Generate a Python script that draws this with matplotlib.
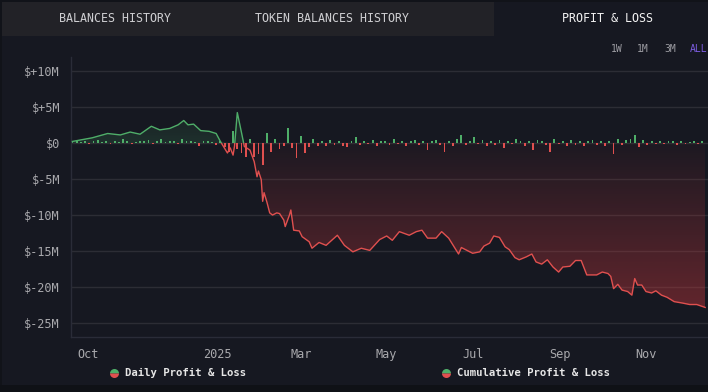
import numpy as np
import pandas as pd
import matplotlib
matplotlib.use("Agg")
import matplotlib.pyplot as plt
import matplotlib.dates as mdates
from matplotlib.patches import Rectangle, PathPatch
from matplotlib.path import Path
from matplotlib.lines import Line2D

# ── Data (values in $M) ─────────────────────────────────────
cum_dates = [
    "2024-09-20", "2024-10-04", "2024-10-15", "2024-10-24", "2024-10-31", "2024-11-07",
    "2024-11-15", "2024-11-21", "2024-11-28", "2024-12-04", "2024-12-08", "2024-12-11",
    "2024-12-15", "2024-12-20", "2024-12-26", "2024-12-31", "2025-01-03", "2025-01-08",
    "2025-01-10", "2025-01-12", "2025-01-13", "2025-01-15", "2025-01-18", "2025-01-20",
    "2025-01-24", "2025-01-27", "2025-01-29", "2025-01-30", "2025-02-01", "2025-02-02",
    "2025-02-03", "2025-02-05", "2025-02-07", "2025-02-09", "2025-02-12", "2025-02-14",
    "2025-02-17", "2025-02-18", "2025-02-21", "2025-02-22", "2025-02-24", "2025-02-28",
    "2025-03-02", "2025-03-07", "2025-03-09", "2025-03-14", "2025-03-19", "2025-03-23",
    "2025-03-27", "2025-04-01", "2025-04-07", "2025-04-13", "2025-04-19", "2025-04-26",
    "2025-05-01", "2025-05-05", "2025-05-10", "2025-05-17", "2025-05-22", "2025-05-26",
    "2025-05-30", "2025-06-05", "2025-06-09", "2025-06-14", "2025-06-21", "2025-06-23",
    "2025-06-27", "2025-07-01", "2025-07-06", "2025-07-09", "2025-07-13", "2025-07-16",
    "2025-07-20", "2025-07-24", "2025-07-27", "2025-07-31", "2025-08-03", "2025-08-08",
    "2025-08-12", "2025-08-15", "2025-08-19", "2025-08-23", "2025-08-27", "2025-08-31",
    "2025-09-03", "2025-09-08", "2025-09-12", "2025-09-16", "2025-09-20", "2025-09-27",
    "2025-10-01", "2025-10-05", "2025-10-07", "2025-10-09", "2025-10-12", "2025-10-15",
    "2025-10-19", "2025-10-22", "2025-10-24", "2025-10-26", "2025-10-29", "2025-11-01",
    "2025-11-05", "2025-11-08", "2025-11-12", "2025-11-16", "2025-11-21", "2025-11-27",
    "2025-12-02", "2025-12-07", "2025-12-13",
]
cum_values = [
    0.2, 0.7, 1.3, 1.1, 1.5, 1.2, 2.3, 1.8, 2.0, 2.5,
    3.1, 2.5, 2.6, 1.7, 1.6, 1.3, 0.2, -1.4, -0.7, -1.7,
    -0.5, 4.2, 1.4, -0.5, -1.0, -2.6, -4.7, -3.9, -5.1, -8.1,
    -6.9, -8.2, -9.7, -10.0, -9.7, -9.8, -10.7, -11.6, -10.0, -9.3,
    -12.1, -12.2, -13.0, -13.7, -14.6, -13.8, -14.2, -13.5, -12.8, -14.2,
    -15.1, -14.6, -14.9, -13.4, -12.9, -13.5, -12.3, -12.8, -12.3, -12.1,
    -13.2, -13.2, -12.3, -13.2, -15.4, -14.5, -14.9, -15.3, -15.1, -14.3,
    -13.9, -12.9, -13.1, -14.4, -14.8, -15.9, -16.2, -15.8, -15.4, -16.5,
    -16.8, -16.2, -17.2, -17.9, -17.2, -17.1, -16.3, -16.3, -18.3, -18.3,
    -17.9, -18.1, -18.5, -20.2, -19.6, -20.4, -20.6, -21.1, -18.8, -19.7,
    -19.7, -20.6, -20.8, -20.5, -21.1, -21.4, -22.0, -22.2, -22.4, -22.4,
    -22.8,
]

# daily P&L, one bar every 3 days from daily_start
daily_start = "2024-09-20"
daily_values = [
    0.3, 0.2, 0.1, 0.3, -0.1, 0.2, 0.4, 0.1, 0.2, -0.1,
    0.3, 0.1, 0.5, 0.2, -0.2, 0.1, 0.3, 0.2, 0.4, -0.1,
    0.2, 0.6, 0.1, 0.3, 0.2, -0.2, 0.5, 0.2, 0.3, 0.1,
    -0.4, 0.3, 0.2, 0.1, -0.3, 0.3, -0.6, -1.2, 1.6, -0.8,
    -1.4, -1.9, 0.6, -2.0, -1.5, -3.1, 1.4, -1.2, 0.6, -0.9,
    -0.5, 2.0, -0.7, -2.1, 0.9, -1.4, -0.6, 0.5, -0.4, 0.3,
    -0.5, 0.4, -0.3, 0.2, -0.4, -0.6, 0.3, 0.8, -0.3, 0.2,
    -0.2, 0.4, -0.4, 0.3, 0.2, -0.3, 0.5, -0.2, 0.3, -0.5,
    0.2, 0.4, -0.3, 0.3, -1.0, 0.2, 0.4, -0.3, -1.3, 0.3,
    -0.4, 0.5, 1.1, -0.3, 0.3, 0.8, -0.2, 0.4, -0.5, 0.3,
    -0.3, 0.4, -0.7, 0.3, -0.2, 0.5, 0.2, -0.4, 0.3, -1.0,
    0.4, 0.3, -0.3, -1.3, 0.5, -0.2, 0.3, -0.4, 0.4, -0.3,
    0.3, -0.5, 0.2, 0.4, -0.3, 0.2, -0.4, 0.3, -1.5, 0.5,
    -0.3, 0.4, 0.6, 1.1, -0.6, 0.4, -0.3, 0.2, -0.2, 0.3,
    -0.2, 0.2, 0.3, -0.3, 0.2, -0.2, 0.1, 0.2, -0.2, 0.2,
]

y_ticks = [10, 5, 0, -5, -10, -15, -20, -25]
x_tick_dates = ["2024-10-01", "2025-01-01", "2025-03-01", "2025-05-01",
                "2025-07-01", "2025-09-01", "2025-11-01"]
x_tick_labels = ["Oct", "2025", "Mar", "May", "Jul", "Sep", "Nov"]
tab_labels = ["BALANCES HISTORY", "TOKEN BALANCES HISTORY", "PROFIT & LOSS"]
range_labels = ["1W", "1M", "3M", "ALL"]
legend_labels = ["Daily Profit & Loss", "Cumulative Profit & Loss"]

# ── Style ───────────────────────────────────────────────────
BG = "#161821"
TAB_BG = "#222227"
GRID = "#2c2d35"
SPINE = "#2a2c38"
TICK = "#a9a9ad"
GREEN = "#4fae69"
RED = "#e0504f"
MONO = "DejaVu Sans Mono"

W, H = 708, 392
fig = plt.figure(figsize=(W / 100, H / 100), dpi=100)
fig.patch.set_facecolor(BG)


def fx(x):
    return x / W


def fy(y):
    return 1 - y / H


# background pieces: darker left edge + bottom strip, tab bar
fig.add_artist(Rectangle((0, 0), fx(2), 1, transform=fig.transFigure,
                         facecolor="#111319", edgecolor="none", zorder=0))
fig.add_artist(Rectangle((0, 0), 1, fy(385), transform=fig.transFigure,
                         facecolor="#0f1116", edgecolor="none", zorder=0))
fig.add_artist(Rectangle((fx(2), fy(36)), fx(492), fy(2) - fy(36),
                         transform=fig.transFigure, facecolor=TAB_BG,
                         edgecolor="none", zorder=0))
fig.add_artist(Rectangle((0, fy(2)), 1, 1 - fy(2), transform=fig.transFigure,
                         facecolor="#111319", edgecolor="none", zorder=0))

for lab, xc in zip(tab_labels, [115, 332, 607]):
    col = "#f2f2f2" if lab == "PROFIT & LOSS" else "#cfcfd2"
    fig.text(fx(xc), fy(19), lab, ha="center", va="center",
             fontsize=8.4, family=MONO, color=col)

for lab, xc in zip(range_labels, [617, 643, 670, 699]):
    col = "#7c5ce0" if lab == "ALL" else "#9d9da3"
    fig.text(fx(xc), fy(49), lab, ha="center", va="center",
             fontsize=7, family=MONO, color=col)

# ── Axes ────────────────────────────────────────────────────
ax = fig.add_axes([fx(71), fy(337), fx(708 - 71), fy(57) - fy(337)])
ax.set_facecolor(BG)

cx = mdates.date2num(pd.to_datetime(cum_dates))
cy = np.array(cum_values)
dd = pd.date_range(daily_start, periods=len(daily_values), freq="3D")
dv = np.array(daily_values)

x_lo = mdates.date2num(pd.Timestamp("2024-09-19"))
x_hi = mdates.date2num(pd.Timestamp("2025-12-15"))
y_lo, y_hi = -26.9, 11.9

ax.grid(axis="y", color=GRID, linewidth=1, zorder=0)
ax.set_axisbelow(True)


# gradient fills clipped to the area under / over the cumulative line
def grad_fill(vals, rgb, a0, a1, top, bottom):
    verts = [(cx[0], 0)] + list(zip(cx, vals)) + [(cx[-1], 0), (cx[0], 0)]
    clip = PathPatch(Path(verts), facecolor="none", edgecolor="none",
                     transform=ax.transData)
    ax.add_patch(clip)
    n = 256
    img = np.zeros((n, 1, 4))
    img[:, 0, :3] = rgb
    img[:, 0, 3] = np.linspace(a0, a1, n)
    im = ax.imshow(img, extent=[cx[0], cx[-1], bottom, top], aspect="auto",
                   origin="upper", zorder=1, interpolation="bilinear")
    im.set_clip_path(clip)


grad_fill(np.minimum(cy, 0), (0.80, 0.22, 0.24), 0.04, 0.42, 0, -23)
grad_fill(np.maximum(cy, 0), (0.30, 0.70, 0.42), 0.05, 0.16, 4.5, 0)

# cumulative line, green above zero, red below
for col, rect in [(GREEN, Rectangle((x_lo, 0), x_hi - x_lo, 50)),
                  (RED, Rectangle((x_lo, -50), x_hi - x_lo, 50))]:
    rect.set_transform(ax.transData)
    ln, = ax.plot(cx, cy, color=col, linewidth=1.0, zorder=3)
    ln.set_clip_path(rect)

# daily bars
bar_cols = [GREEN if v >= 0 else RED for v in dv]
ax.bar(dd, dv, width=1.3, color=bar_cols, linewidth=0, zorder=2)

ax.set_xlim(x_lo, x_hi)
ax.set_ylim(y_lo, y_hi)

ax.set_yticks(y_ticks)
ax.set_yticklabels(["$0" if v == 0 else (f"$+{v}M" if v > 0 else f"$-{abs(v)}M")
                    for v in y_ticks])
ax.set_xticks(mdates.date2num(pd.to_datetime(x_tick_dates)))
ax.set_xticklabels(x_tick_labels)
ax.tick_params(axis="both", length=0, colors=TICK, labelsize=8.6)
ax.tick_params(axis="y", pad=8)
ax.tick_params(axis="x", pad=8)
for t in ax.get_xticklabels() + ax.get_yticklabels():
    t.set_family(MONO)

for s in ["top", "right"]:
    ax.spines[s].set_visible(False)
for s in ["left", "bottom"]:
    ax.spines[s].set_color(SPINE)
    ax.spines[s].set_linewidth(1)

# ── Legend ──────────────────────────────────────────────────
for lab, mx in zip(legend_labels, [114, 446]):
    fig.add_artist(Line2D([fx(mx)], [fy(373)], transform=fig.transFigure,
                          marker="o", markersize=6.5, fillstyle="top",
                          markerfacecolor=GREEN, markerfacecoloralt=RED,
                          markeredgewidth=0, linestyle="none"))
    fig.text(fx(mx + 11), fy(373), lab, ha="left", va="center",
             fontsize=7.7, family=MONO, color="#e6e6e6", fontweight="bold")

fig.savefig("out.png", dpi=100, facecolor=BG)
